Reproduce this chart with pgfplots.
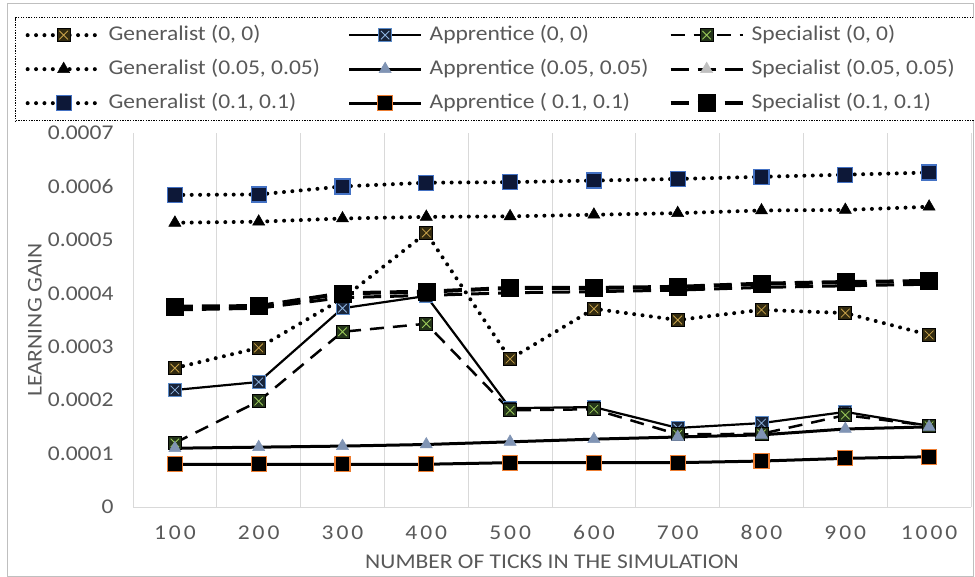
\documentclass[border=0pt]{standalone}
\usepackage{pgfplots}
\pgfplotsset{compat=1.18}
\usepackage{fontspec}
\setmainfont{Carlito}[FakeStretch=1.12]
\newfontfamily\xtickfont{Carlito}[FakeStretch=1.12,LetterSpace=14]
\definecolor{txtgray}{HTML}{595959}
\definecolor{gridgray}{HTML}{D9D9D9}
\definecolor{xcolG}{HTML}{C8A24A}
\definecolor{fillG}{HTML}{332B10}
\definecolor{xcolA}{HTML}{8FB4E0}
\definecolor{fillA}{HTML}{18243A}
\definecolor{edgeA}{HTML}{5B8BC9}
\definecolor{xcolS}{HTML}{9CCB5A}
\definecolor{fillS}{HTML}{24351A}
\definecolor{navy}{HTML}{0D1838}
\definecolor{exblue}{HTML}{4472C4}
\definecolor{exorange}{HTML}{ED7D31}
\definecolor{bluegray}{HTML}{8094B4}
\definecolor{lightgray}{HTML}{BFBFBF}
\newcommand{\xsqmark}[1]{%
  \pgfpathrectangle{\pgfqpoint{-\pgfplotmarksize}{-\pgfplotmarksize}}{\pgfqpoint{2\pgfplotmarksize}{2\pgfplotmarksize}}%
  \pgfusepathqfillstroke
  \pgfscope
  \pgfsetstrokecolor{#1}\pgfsetlinewidth{0.8bp}%
  \pgfpathmoveto{\pgfqpoint{-0.65\pgfplotmarksize}{-0.65\pgfplotmarksize}}%
  \pgfpathlineto{\pgfqpoint{0.65\pgfplotmarksize}{0.65\pgfplotmarksize}}%
  \pgfpathmoveto{\pgfqpoint{-0.65\pgfplotmarksize}{0.65\pgfplotmarksize}}%
  \pgfpathlineto{\pgfqpoint{0.65\pgfplotmarksize}{-0.65\pgfplotmarksize}}%
  \pgfusepathqstroke
  \endpgfscope}
\pgfdeclareplotmark{xsqG}{\xsqmark{xcolG}}
\pgfdeclareplotmark{xsqA}{\xsqmark{xcolA}}
\pgfdeclareplotmark{xsqS}{\xsqmark{xcolS}}
\begin{document}
\begin{tikzpicture}
\useasboundingbox (0,0) rectangle (975bp,577bp);
\draw[lightgray, line width=1bp] (7bp,1bp) rectangle (973bp,573bp);
\begin{axis}[
  at={(133bp,70bp)}, anchor=south west,
  scale only axis, width=838bp, height=374bp,
  xmin=0.5, xmax=10.5, ymin=0, ymax=0.0007,
  xtick={1,2,3,4,5,6,7,8,9,10},
  xticklabels={100,200,300,400,500,600,700,800,900,1000},
  ytick={0,0.0001,0.0002,0.0003,0.0004,0.0005,0.0006,0.0007},
  yticklabels={0,0.0001,0.0002,0.0003,0.0004,0.0005,0.0006,0.0007},
  scaled y ticks=false,
  minor xtick={0.5,1.5,2.5,3.5,4.5,5.5,6.5,7.5,8.5,9.5,10.5},
  xminorgrids, minor grid style={draw=gridgray, line width=1bp},
  major tick length=0pt, minor tick length=0pt,
  axis x line*=bottom, axis y line*=left,
  axis line style={draw=gridgray, line width=1bp, -},
  xticklabel style={font=\xtickfont\fontsize{21bp}{25bp}\selectfont, text=txtgray, yshift=-15bp},
  yticklabel style={font=\fontsize{21bp}{25bp}\selectfont, text=txtgray, xshift=-16bp},
  xlabel={NUMBER OF TICKS IN THE SIMULATION},
  ylabel={LEARNING GAIN},
  xlabel style={font=\fontsize{21bp}{25bp}\selectfont, text=txtgray, at={(axis description cs:0.5,-0.147)}, anchor=center},
  ylabel style={font=\fontsize{21bp}{25bp}\selectfont, text=txtgray, at={(axis description cs:-0.117,0.5)}, anchor=center},
  /pgf/number format/assume math mode=true,
  legend columns=3,
  legend cell align=left,
  legend style={at={(axis description cs:-0.14081,1.31016)}, anchor=north west,
    draw=black, line width=1.3bp, dash pattern=on 1.3bp off 1.3bp,
    inner xsep=10bp, inner ysep=8bp,
    font=\fontsize{21bp}{25bp}\selectfont, text=txtgray,
    nodes={inner sep=0pt, text height=15bp, text depth=4bp},
    row sep=15bp,
    /tikz/every odd column/.append style={column sep=7bp},
    /tikz/every even column/.append style={column sep=0bp}},
  legend image code/.code={\draw[mark repeat=2,mark phase=2,#1] plot coordinates {(0bp,0bp) (36bp,0bp) (72bp,0bp)};},
]
% Generalist (0,0)
\addplot[black, line width=4bp, line cap=round, dash pattern=on 0bp off 8.4bp, mark=xsqG, mark size=6.5bp, mark options={solid, fill=fillG, draw=black, line width=0.8bp}]
 coordinates {(1,0.000260) (2,0.000298) (3,0.000390) (4,0.000513) (5,0.000277) (6,0.000371) (7,0.000350) (8,0.000369) (9,0.000363) (10,0.000322)};
\addlegendentry{\makebox[239bp][l]{Generalist (0, 0)}}
% Apprentice (0,0)
\addplot[black, line width=2.2bp, mark=xsqA, mark size=6.5bp, mark options={solid, fill=fillA, draw=edgeA, line width=1bp}]
 coordinates {(1,0.000219) (2,0.000234) (3,0.000372) (4,0.000395) (5,0.000185) (6,0.000187) (7,0.000148) (8,0.000157) (9,0.000178) (10,0.000152)};
\addlegendentry{\makebox[239bp][l]{Apprentice (0, 0)}}
% Specialist (0,0)
\addplot[black, line width=2.5bp, dash pattern=on 14bp off 9bp, mark=xsqS, mark size=6.5bp, mark options={solid, fill=fillS, draw=black, line width=0.8bp}]
 coordinates {(1,0.000120) (2,0.000198) (3,0.000328) (4,0.000343) (5,0.000181) (6,0.000183) (7,0.000136) (8,0.000137) (9,0.000172) (10,0.000152)};
\addlegendentry{\makebox[217bp][l]{Specialist (0, 0)}}
% Generalist (0.05)
\addplot[black, line width=4bp, line cap=round, dash pattern=on 0bp off 8.4bp, mark=triangle*, mark size=7bp, mark options={solid, fill=black, draw=black, line width=0.5bp}]
 coordinates {(1,0.000532) (2,0.000534) (3,0.000540) (4,0.000543) (5,0.000544) (6,0.000547) (7,0.000550) (8,0.000555) (9,0.000556) (10,0.000562)};
\addlegendentry{\makebox[239bp][l]{Generalist (0.05, 0.05)}}
% Apprentice (0.05)
\addplot[black, line width=3bp, mark=triangle*, mark size=7bp, mark options={solid, fill=bluegray, draw=bluegray, line width=0.5bp}]
 coordinates {(1,0.000110) (2,0.000112) (3,0.000114) (4,0.000117) (5,0.000122) (6,0.000127) (7,0.000131) (8,0.000135) (9,0.000146) (10,0.000150)};
\addlegendentry{\makebox[239bp][l]{Apprentice (0.05, 0.05)}}
% Specialist (0.05)
\addplot[black, line width=3bp, dash pattern=on 18bp off 9bp, mark=triangle*, mark size=7bp, mark options={solid, fill=lightgray, draw=lightgray, line width=0.5bp}]
 coordinates {(1,0.000369) (2,0.000372) (3,0.000392) (4,0.000396) (5,0.000401) (6,0.000403) (7,0.000406) (8,0.000411) (9,0.000414) (10,0.000417)};
\addlegendentry{\makebox[217bp][l]{Specialist (0.05, 0.05)}}
% Generalist (0.1)
\addplot[black, line width=4bp, line cap=round, dash pattern=on 0bp off 8.4bp, mark=square*, mark size=7.5bp, mark options={solid, fill=navy, draw=exblue, line width=1.2bp}]
 coordinates {(1,0.000584) (2,0.000585) (3,0.000600) (4,0.000607) (5,0.000608) (6,0.000611) (7,0.000614) (8,0.000618) (9,0.000622) (10,0.000626)};
\addlegendentry{\makebox[239bp][l]{Generalist (0.1, 0.1)}}
% Apprentice (0.1)
\addplot[black, line width=3bp, mark=square*, mark size=7.5bp, mark options={solid, fill=black, draw=exorange, line width=1.2bp}]
 coordinates {(1,0.000080) (2,0.000080) (3,0.000080) (4,0.000080) (5,0.000083) (6,0.000083) (7,0.000083) (8,0.000086) (9,0.000091) (10,0.000094)};
\addlegendentry{\makebox[239bp][l]{Apprentice ( 0.1, 0.1)}}
% Specialist (0.1)
\addplot[black, line width=4bp, dash pattern=on 18bp off 9bp, mark=square*, mark size=8.5bp, mark options={solid, fill=black, draw=black, line width=0.5bp}]
 coordinates {(1,0.000375) (2,0.000376) (3,0.000400) (4,0.000403) (5,0.000410) (6,0.000410) (7,0.000412) (8,0.000418) (9,0.000421) (10,0.000423)};
\addlegendentry{\makebox[217bp][l]{Specialist (0.1, 0.1)}}
\end{axis}
\end{tikzpicture}
\end{document}
